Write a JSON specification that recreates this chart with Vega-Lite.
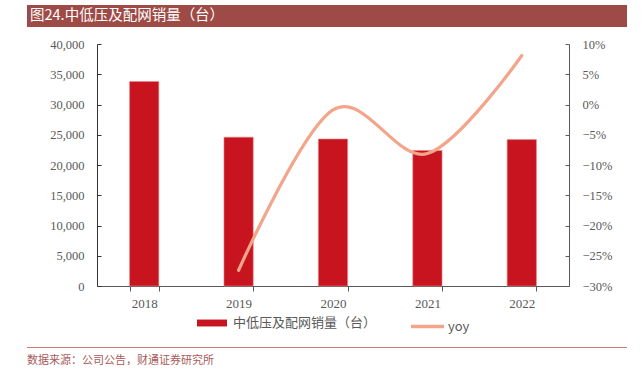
{
  "$schema": "https://vega.github.io/schema/vega-lite/v6.json",
  "padding": {"left": 27, "top": 5, "right": 17, "bottom": 0},
  "background": "white",
  "spacing": 11,
  "bounds": "full",
  "config": {
    "view": {"stroke": null},
    "concat": {"spacing": 11},
    "axis": {"labelFont": "Liberation Serif", "labelFontSize": 12.5, "labelColor": "#595959", "titleFont": "Liberation Serif"}
  },
  "vconcat": [
    {
      "width": 530,
      "height": 22,
      "data": {"values": [{"t": "图24.中低压及配网销量（台）", "a": 0, "b": 600}]},
      "layer": [
        {
          "mark": {"type": "rect", "color": "#9E4A46"},
          "encoding": {
            "x": {"field": "a", "type": "quantitative", "scale": {"domain": [70, 600], "nice": false, "zero": false}, "axis": null},
            "x2": {"field": "b"}
          }
        },
        {
          "mark": {"type": "text", "align": "left", "baseline": "middle", "dx": 3, "color": "white", "font": "Noto Sans CJK SC", "fontSize": 14.5},
          "encoding": {
            "x": {"field": "a", "type": "quantitative", "scale": {"domain": [70, 600], "nice": false, "zero": false}, "axis": null},
            "text": {"field": "t"}
          }
        }
      ]
    },
    {
      "width": 472,
      "height": 242,
      "data": {"values": [
        {"year": "2018", "sales": 33800, "yoy": null},
        {"year": "2019", "sales": 24600, "yoy": -0.274},
        {"year": "2020", "sales": 24300, "yoy": -0.009},
        {"year": "2021", "sales": 22400, "yoy": -0.081},
        {"year": "2022", "sales": 24200, "yoy": 0.081}
      ]},
      "encoding": {
        "x": {"field": "year", "type": "nominal", "title": "\u00a0",
          "scale": {"paddingInner": 0.69, "paddingOuter": 0.345},
          "axis": {"labelAngle": 0, "tickBand": "extent", "tickSize": 5, "tickColor": "#595959", "domainColor": "#595959", "labelPadding": 6, "labelFontSize": 13, "titleFontSize": 11, "titlePadding": 15}}
      },
      "layer": [
        {
          "mark": {"type": "bar", "color": "#C8141E", "stroke": "#E8888C", "strokeWidth": 0.6},
          "encoding": {
            "y": {"field": "sales", "type": "quantitative", "title": null,
              "scale": {"domain": [0, 40000]},
              "axis": {"values": [0, 5000, 10000, 15000, 20000, 25000, 30000, 35000, 40000], "format": ",.0f", "grid": false, "tickSize": -4, "labelPadding": 17, "domainColor": "#333333", "tickColor": "#333333", "minExtent": 70}},
            "fill": {"datum": "中低压及配网销量（台）", "type": "nominal",
              "scale": {"range": ["#C8141E"]},
              "legend": {"orient": "none", "legendX": 100, "legendY": 303, "title": null,
                "symbolType": "M-1,-0.23L1,-0.23L1,0.23L-1,0.23Z", "symbolSize": 900, "symbolStrokeWidth": 0,
                "labelFont": "Noto Sans CJK SC", "labelFontSize": 13, "labelColor": "#595959", "labelOffset": 6}}
          }
        },
        {
          "mark": {"type": "line", "interpolate": "cardinal", "strokeWidth": 3.2, "strokeCap": "round"},
          "encoding": {
            "y": {"field": "yoy", "type": "quantitative", "title": null,
              "scale": {"domain": [-0.3, 0.1]},
              "axis": {"orient": "right", "values": [-0.3, -0.25, -0.2, -0.15, -0.1, -0.05, 0, 0.05, 0.1], "format": ".0%", "grid": false, "tickSize": -4, "labelPadding": 17, "domainColor": "#595959", "tickColor": "#595959"}},
            "stroke": {"datum": "yoy", "type": "nominal",
              "scale": {"range": ["#F2A58A"]},
              "legend": {"orient": "none", "legendX": 312, "legendY": 303, "title": null,
                "symbolType": "stroke", "symbolSize": 1089, "symbolStrokeWidth": 3.5,
                "labelFont": "Noto Sans CJK SC", "labelFontSize": 13, "labelColor": "#595959", "labelOffset": 2}}
          }
        }
      ],
      "resolve": {"scale": {"y": "independent"}}
    },
    {
      "width": 530,
      "height": 1,
      "data": {"values": [{"t": "数据来源：公司公告，财通证券研究所", "a": 0, "b": 600}]},
      "layer": [
        {
          "mark": {"type": "rect", "color": "#C87A76"},
          "encoding": {
            "x": {"field": "a", "type": "quantitative", "scale": {"domain": [70, 600], "nice": false, "zero": false}, "axis": null},
            "x2": {"field": "b"}
          }
        },
        {
          "mark": {"type": "text", "align": "left", "baseline": "top", "dy": 7, "color": "#A85A58", "font": "Noto Sans CJK SC", "fontSize": 11},
          "encoding": {
            "x": {"field": "a", "type": "quantitative", "scale": {"domain": [70, 600], "nice": false, "zero": false}, "axis": null},
            "text": {"field": "t"}
          }
        }
      ]
    }
  ]
}
